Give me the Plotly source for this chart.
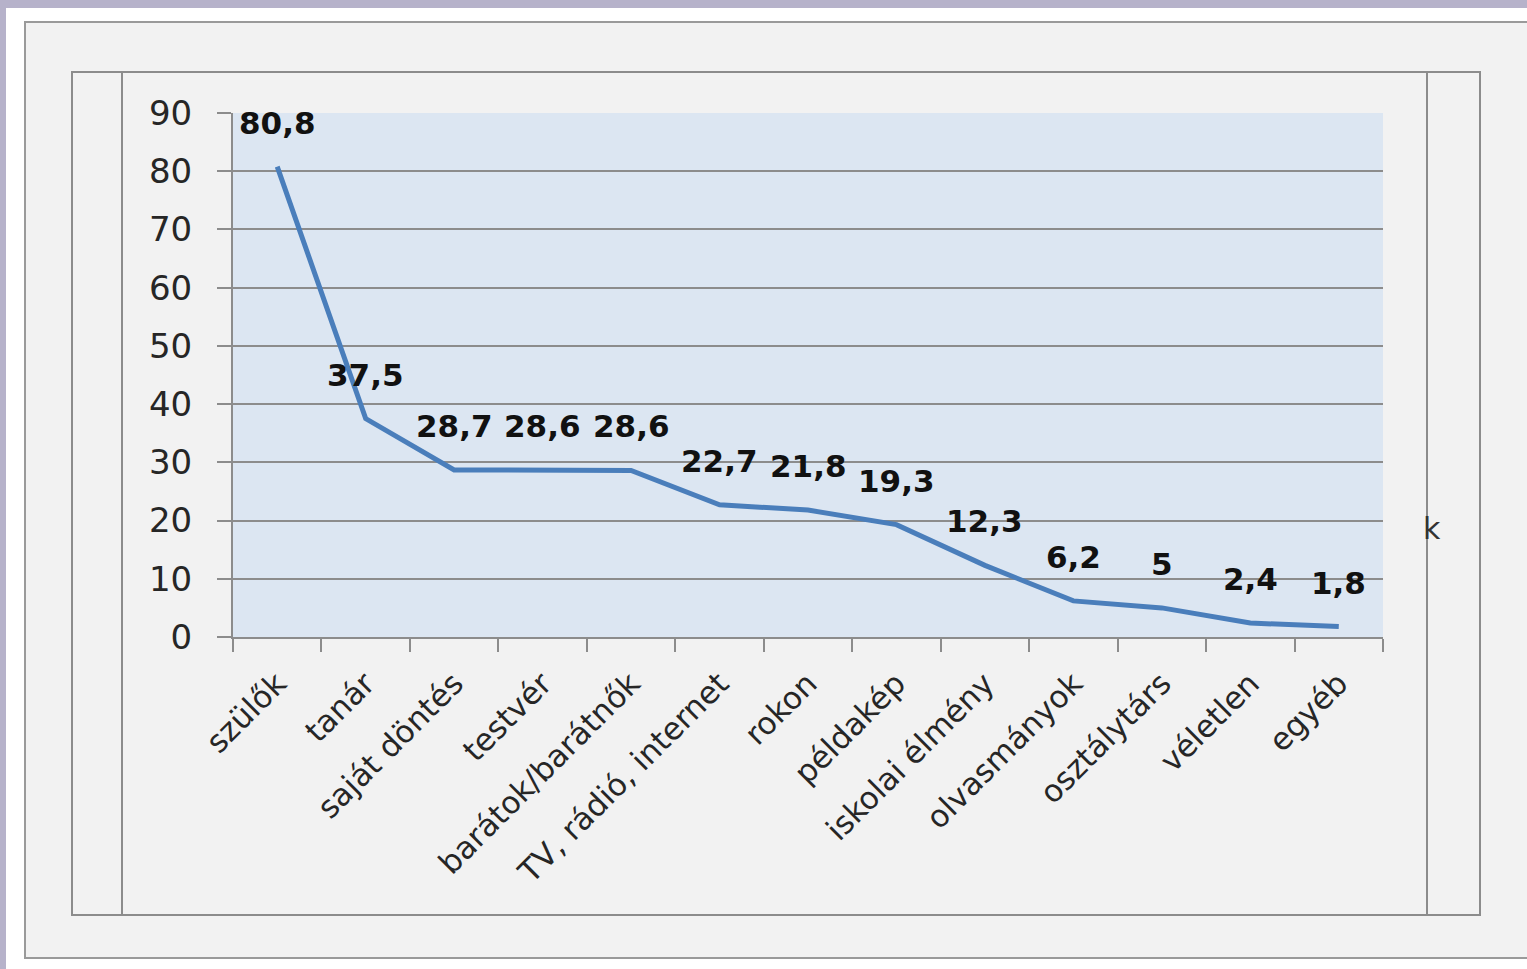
import plotly.graph_objects as go

categories = ["szülők", "tanár", "saját döntés", "testvér", "barátok/barátnők",
              "TV, rádió, internet", "rokon", "példakép", "iskolai élmény",
              "olvasmányok", "osztálytárs", "véletlen", "egyéb"]
values = [80.8, 37.5, 28.7, 28.6, 28.6, 22.7, 21.8, 19.3, 12.3, 6.2, 5, 2.4, 1.8]
y_ticks = [0, 10, 20, 30, 40, 50, 60, 70, 80, 90]

W, H = 1527, 969
L, R, T, B = 233, 1383, 113, 637  # plot area in px


def px(x):
    return (x - L) / (R - L)


def py(y):
    return (B - y) / (B - T)


def fmt(v):
    return f"{v:g}".replace(".", ",")


fig = go.Figure()
fig.add_trace(go.Scatter(
    x=categories, y=values, mode="lines",
    line=dict(color="#4a7ebb", width=5),
    hoverinfo="skip", showlegend=False,
))

for c, v in zip(categories, values):
    fig.add_annotation(
        x=c, y=v, xref="x", yref="y", text="<b>" + fmt(v) + "</b>", showarrow=False,
        yshift=44, font=dict(family="DejaVu Sans", size=31, color="#111111"),
        xanchor="center", yanchor="middle",
    )

fig.add_annotation(
    x=px(1421), y=py(528), xref="paper", yref="paper", text="k",
    showarrow=False, xanchor="left", yanchor="middle",
    font=dict(family="DejaVu Sans", size=30, color="#333333"),
)

shapes = [
    # lavender frame
    dict(type="rect", xref="paper", yref="paper", x0=px(0), x1=px(W), y0=py(0), y1=py(8),
         fillcolor="#b6b2ca", line=dict(width=0), layer="below"),
    dict(type="rect", xref="paper", yref="paper", x0=px(0), x1=px(6), y0=py(0), y1=py(H),
         fillcolor="#b6b2ca", line=dict(width=0), layer="below"),
    # outer box
    dict(type="rect", xref="paper", yref="paper", x0=px(25), x1=px(W + 10), y0=py(22), y1=py(958),
         fillcolor="#f2f2f2", line=dict(color="#9a9a9a", width=2), layer="below"),
    # inner box
    dict(type="rect", xref="paper", yref="paper", x0=px(72), x1=px(1480), y0=py(72), y1=py(915),
         fillcolor="rgba(0,0,0,0)", line=dict(color="#8c8c8c", width=2), layer="below"),
    dict(type="line", xref="paper", yref="paper", x0=px(122), x1=px(122), y0=py(72), y1=py(915),
         line=dict(color="#8c8c8c", width=2), layer="below"),
    dict(type="line", xref="paper", yref="paper", x0=px(1427), x1=px(1427), y0=py(72), y1=py(915),
         line=dict(color="#8c8c8c", width=2), layer="below"),
    # plot area fill
    dict(type="rect", xref="paper", yref="paper", x0=0, x1=1, y0=0, y1=1,
         fillcolor="#dce6f2", line=dict(width=0), layer="below"),
]

fig.update_layout(
    width=W, height=H,
    margin=dict(l=L, r=W - R, t=T, b=H - B, pad=0),
    paper_bgcolor="white",
    plot_bgcolor="rgba(0,0,0,0)",
    shapes=shapes,
    showlegend=False,
    xaxis=dict(
        type="category", range=[-0.5, len(categories) - 0.5],
        tickson="boundaries", ticks="outside", ticklen=13, tickwidth=2, tickcolor="#8c8c8c",
        showline=True, linecolor="#8c8c8c", linewidth=2, showgrid=False,
        tickangle=-45, ticklabelstandoff=14,
        tickfont=dict(family="DejaVu Sans", size=31, color="#262626"),
    ),
    yaxis=dict(
        range=[0, 90], tickvals=y_ticks, ticks="outside", ticklen=14, tickwidth=2,
        tickcolor="#8c8c8c", showline=True, linecolor="#8c8c8c", linewidth=2,
        showgrid=True, gridcolor="#8c8c8c", gridwidth=2, zeroline=False,
        ticklabelstandoff=18,
        tickfont=dict(family="DejaVu Sans", size=34, color="#262626"),
    ),
)

fig.write_html("out.html", config={"displayModeBar": False},
               post_script="document.body.style.margin='0px';")
